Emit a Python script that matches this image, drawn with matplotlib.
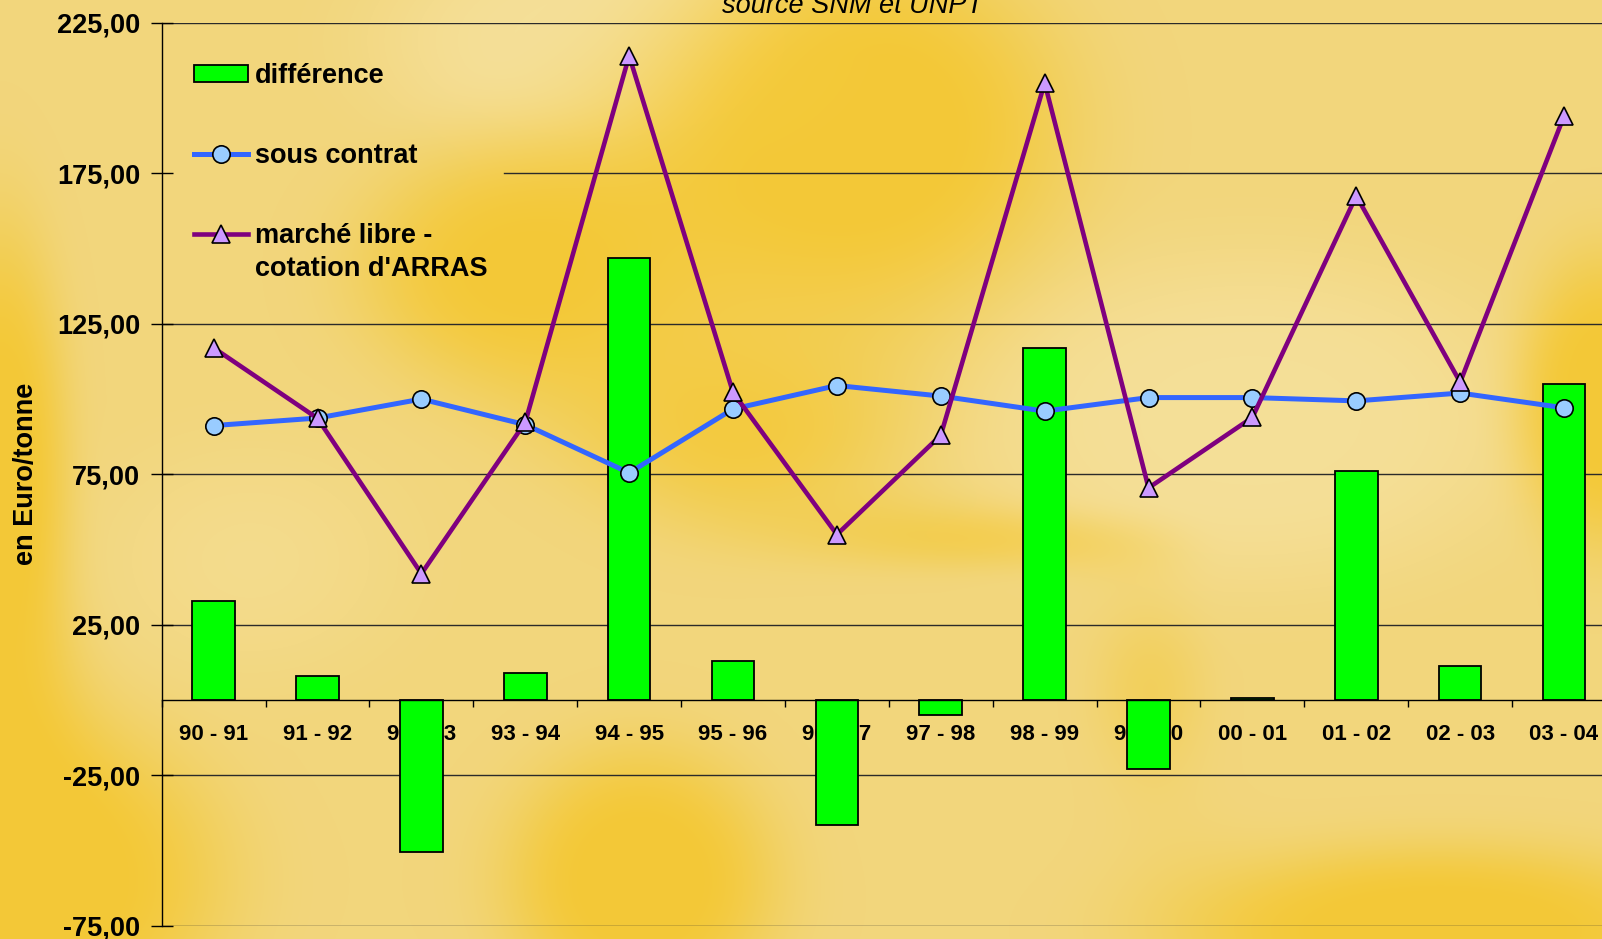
import numpy as np
import matplotlib
matplotlib.use('Agg')
import matplotlib.pyplot as plt
from matplotlib.lines import Line2D
from matplotlib.patches import Patch

# ---------------- data ----------------
categories = ['90 - 91', '91 - 92', '92 - 93', '93 - 94', '94 - 95', '95 - 96', '96 - 97',
              '97 - 98', '98 - 99', '99 - 00', '00 - 01', '01 - 02', '02 - 03', '03 - 04']
difference = [33, 8, -50.5, 9, 147, 13, -41.5, -5, 117, -23, 0.7, 76, 11.5, 105]
sous_contrat = [91.2, 93.7, 100, 91.5, 75.5, 96.7, 104.5, 101, 96, 100.5, 100.5, 99.4, 102, 97.1]
marche_libre = [117, 93.6, 42, 92.3, 214, 102.2, 55, 88, 205, 70.5, 93.9, 167.5, 105.6, 194]
yticks = [-75, -25, 25, 75, 125, 175, 225]
ytick_labels = ['-75,00', '-25,00', '25,00', '75,00', '125,00', '175,00', '225,00']
series_labels = ['différence', 'sous contrat', 'marché libre -']
series_label_line2 = "cotation d'ARRAS"

FONT = ['Liberation Sans', 'DejaVu Sans']
plt.rcParams['font.family'] = FONT

W, H = 1602, 939
fig = plt.figure(figsize=(W / 100, H / 100), dpi=100)

# ---------------- background (soft golden texture) ----------------
yy, xx = np.mgrid[0:H, 0:W].astype(float)

def blob(cx, cy, sx, sy, a):
    return a * np.exp(-(((xx - cx) / sx) ** 2 + ((yy - cy) / sy) ** 2) / 2)

def smooth(f, lo, hi):
    t = np.clip((f - lo) / (hi - lo), 0, 1)
    return t * t * (3 - 2 * t)

dark_field = (blob(0, 470, 55, 200, 1.0) + blob(40, 880, 150, 130, 1.0) +
              blob(500, 270, 130, 100, 0.8) + blob(860, 130, 170, 150, 1.0) +
              blob(740, 450, 140, 80, 0.6) + blob(640, 880, 110, 110, 1.0) +
              blob(1440, 930, 220, 70, 1.0) + blob(1602, 400, 70, 120, 1.0) +
              blob(1000, 540, 130, 30, 0.5) + blob(1150, 690, 60, 90, 0.5))
light_field = (blob(600, 40, 190, 100, 1.0) + blob(1250, 420, 240, 140, 1.0) +
               blob(250, 560, 170, 130, 0.6))
dark = smooth(dark_field, 0.15, 0.9) * 0.75
light = smooth(light_field, 0.2, 0.9) * 0.75 * (1 - dark)
base = np.array([242, 214, 124]) / 255
dk = np.array([244, 196, 32]) / 255
lt = np.array([246, 226, 160]) / 255
img = (base[None, None, :] * (1 - dark[..., None] - light[..., None]) +
       dk[None, None, :] * dark[..., None] + lt[None, None, :] * light[..., None])
bg = fig.add_axes([0, 0, 1, 1], zorder=-10)
bg.imshow(np.clip(img, 0, 1), extent=(0, W, H, 0), aspect='auto', interpolation='bilinear')
bg.axis('off')

# ---------------- main axes ----------------
left_px, right_px, top_px, bot_px = 161.7, 1616, 22.7, 926
ax = fig.add_axes([left_px / W, 1 - bot_px / H, (right_px - left_px) / W, (bot_px - top_px) / H])
ax.patch.set_alpha(0)

x = np.arange(len(categories))
ax.set_xlim(-0.5, len(categories) - 0.5)
ax.set_ylim(-75, 225)

# gridlines (the one at 175 is hidden behind the legend box on the left)
legend_right_px = 504
for v in yticks:
    xmin = (legend_right_px - left_px) / (right_px - left_px) if v == 175 else 0
    ax.axhline(v, xmin=xmin, color='#2a2a2a', lw=1.0, zorder=0.5)

ax.bar(x, difference, width=0.41, color='#00FF00', edgecolor='black', linewidth=1.3, zorder=2)
ax.plot(x, sous_contrat, color='#3366FF', lw=3.6, marker='o', ms=12.5,
        mfc='#99CCFF', mec='black', mew=1.2, zorder=3)
ax.plot(x, marche_libre, color='#7F007F', lw=3.3, marker='^', ms=13,
        mfc='#CC99FF', mec='black', mew=1.2, zorder=4)

# spines
for s in ['top', 'right']:
    ax.spines[s].set_visible(False)
ax.spines['bottom'].set_position(('data', 0))
ax.spines['bottom'].set_linewidth(1.0)
ax.spines['left'].set_linewidth(1.0)

ax.set_yticks(yticks)
ax.set_yticklabels(ytick_labels, fontsize=19.5, fontweight='bold')
ax.tick_params(axis='y', direction='inout', length=16, width=1.0, pad=7.5)

ax.set_xticks(x)
ax.set_xticklabels(categories, fontsize=16, fontweight='bold')
ax.set_xticks(np.arange(-0.5, len(categories), 1.0), minor=True)
ax.tick_params(axis='x', which='major', length=0, pad=17)
ax.tick_params(axis='x', which='minor', direction='out', length=5, width=1.0)

# labels
fig.text(26 / W, 1 - 474 / H, 'en Euro/tonne', rotation=90, ha='center', va='center',
         fontsize=19.5, fontweight='bold')
fig.text(853 / W, 1 - 12.7 / H, 'source SNM et UNPT', ha='center', va='baseline',
         fontsize=19.5, style='italic')

# legend
handles = [Patch(facecolor='#00FF00', edgecolor='black', linewidth=1.3),
           Line2D([], [], color='#3366FF', lw=3.6, marker='o', ms=12.5, mfc='#99CCFF', mec='black', mew=1.2),
           Line2D([], [], color='#7F007F', lw=3.3, marker='^', ms=13, mfc='#CC99FF', mec='black', mew=1.2)]
leg = fig.legend(handles, series_labels, loc='upper left', bbox_to_anchor=(194 / W, 1 - 63 / H),
                 frameon=False, prop={'family': FONT, 'size': 19.5, 'weight': 'bold'},
                 handlelength=2.0, handleheight=0.55, handletextpad=0.25, labelspacing=2.0,
                 borderpad=0, borderaxespad=0, numpoints=1)
fig.canvas.draw()
tb = leg.get_texts()[2].get_window_extent()
fig.text(tb.x0 / W, (tb.y0 - 33) / H, series_label_line2, ha='left', va='bottom',
         fontsize=19.5, fontweight='bold')

fig.savefig('out.png', dpi=100)
